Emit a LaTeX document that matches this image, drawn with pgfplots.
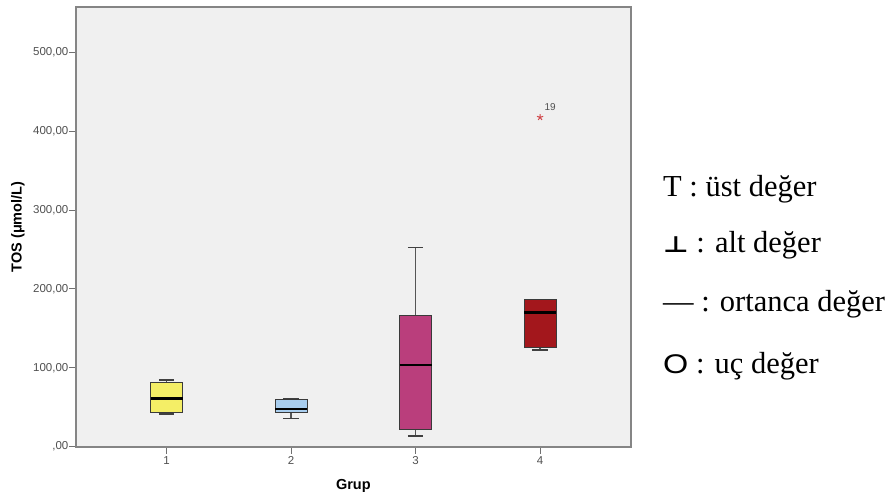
\documentclass[border=0pt]{standalone}
\usepackage{fontspec}
\setmainfont{Liberation Serif}
\newfontfamily\arial{Liberation Sans}
\newfontfamily\dejavu{DejaVu Sans}
\usepackage{graphicx}
\usepackage{pgfplots}
\pgfplotsset{compat=1.18}
\definecolor{bg}{HTML}{F0F0F0}
\definecolor{frame}{HTML}{858585}
\definecolor{tickgray}{HTML}{707070}
\definecolor{labgray}{HTML}{505050}
\definecolor{boxdraw}{HTML}{3A3A3A}
\definecolor{whisk}{HTML}{555555}
\definecolor{gA}{HTML}{F4EE66}
\definecolor{gB}{HTML}{A8CDEE}
\definecolor{gC}{HTML}{BA3E7C}
\definecolor{gD}{HTML}{A3171C}
\definecolor{starred}{HTML}{D0464A}
\begin{document}
\begin{tikzpicture}
\begin{axis}[
  scale only axis, width=554.7pt, height=439.4pt,
  xmin=0.272, xmax=4.728, ymin=0, ymax=557,
  axis background/.style={fill=bg},
  axis line style={draw=frame, line width=1.6pt},
  xtick={1,2,3,4}, xticklabels={1,2,3,4},
  ytick={0,100,200,300,400,500},
  yticklabels={{,00},{100,00},{200,00},{300,00},{400,00},{500,00}},
  tick pos=left, tick align=outside, major tick length=7pt,
  tick style={draw=tickgray, line width=1pt},
  every tick label/.append style={font=\arial\fontsize{11.5}{13}\selectfont, text=labgray},
  yticklabel style={inner sep=0.5pt},
  xticklabel style={inner sep=2.5pt},
  xlabel={Grup}, ylabel={TOS (μmol/L)},
  label style={font=\arial\bfseries\fontsize{14.5}{16}\selectfont},
  xlabel style={at={(axis description cs:0.5,-0.097)}, anchor=base},
  ylabel style={at={(axis description cs:-0.1046,0.5)}, anchor=center},
  whisker/.style={draw=whisk, line width=1.5pt},
  cap/.style={draw=black!75, line width=1.5pt},
  box/.style={draw=boxdraw, line width=1pt},
  med/.style={draw=black, line width=2.6pt},
]
% Group 1
\addplot[whisker] coordinates {(1,41.4) (1,84.5)};
\addplot[cap] coordinates {(0.937,84.5) (1.063,84.5)};
\addplot[cap] coordinates {(0.937,41.4) (1.063,41.4)};
\addplot[box, fill=gA] coordinates {(0.8715,43.6) (1.1285,43.6) (1.1285,82) (0.8715,82)} -- cycle;
\addplot[med] coordinates {(0.8715,61.3) (1.1285,61.3)};
% Group 2
\addplot[whisker] coordinates {(2,36) (2,61.3)};
\addplot[cap] coordinates {(1.937,61.3) (2.063,61.3)};
\addplot[cap] coordinates {(1.937,36) (2.063,36)};
\addplot[box, fill=gB] coordinates {(1.8715,43.6) (2.1285,43.6) (2.1285,59.2) (1.8715,59.2)} -- cycle;
\addplot[med] coordinates {(1.8715,48) (2.1285,48)};
% Group 3
\addplot[whisker] coordinates {(3,13.6) (3,252.7)};
\addplot[cap] coordinates {(2.937,252.7) (3.063,252.7)};
\addplot[cap] coordinates {(2.937,13.6) (3.063,13.6)};
\addplot[box, fill=gC] coordinates {(2.8715,21.2) (3.1285,21.2) (3.1285,166.5) (2.8715,166.5)} -- cycle;
\addplot[med] coordinates {(2.8715,103.5) (3.1285,103.5)};
% Group 4
\addplot[whisker] coordinates {(4,122.6) (4,186.8)};
\addplot[cap] coordinates {(3.937,122.6) (4.063,122.6)};
\addplot[box, fill=gD] coordinates {(3.8715,125.5) (4.1285,125.5) (4.1285,186.8) (3.8715,186.8)} -- cycle;
\addplot[med] coordinates {(3.8715,169.8) (4.1285,169.8)};
% extreme value
\addplot[only marks, mark=star, mark size=3.2pt, draw=starred, mark options={line width=1pt}]
  coordinates {(4,417.5)};
\node[font=\arial\fontsize{10}{11}\selectfont, text=labgray, xshift=10pt, yshift=10pt] at (axis cs:4,417.5) {19};
\end{axis}
\begin{scope}[every node/.style={anchor=base west, inner sep=0pt, font=\fontsize{30.5}{34}\selectfont}]
\node at (587pt,249.7pt) {T : üst değer};
\node at (587pt,193.7pt) {{\dejavu\bfseries\fontsize{28}{30}\selectfont\scalebox{1}[0.8]{⊥}} : alt değer};
\node at (587pt,134.7pt) {— : ortanca değer};
\node at (587pt,72.7pt) {{\arial\fontsize{27}{29}\selectfont\scalebox{1.2}[1]{O}} : uç değer};
\end{scope}
\pgfresetboundingbox
\path[use as bounding box] (-76pt,-48.3pt) rectangle (820pt,446.7pt);
\end{tikzpicture}
\end{document}
